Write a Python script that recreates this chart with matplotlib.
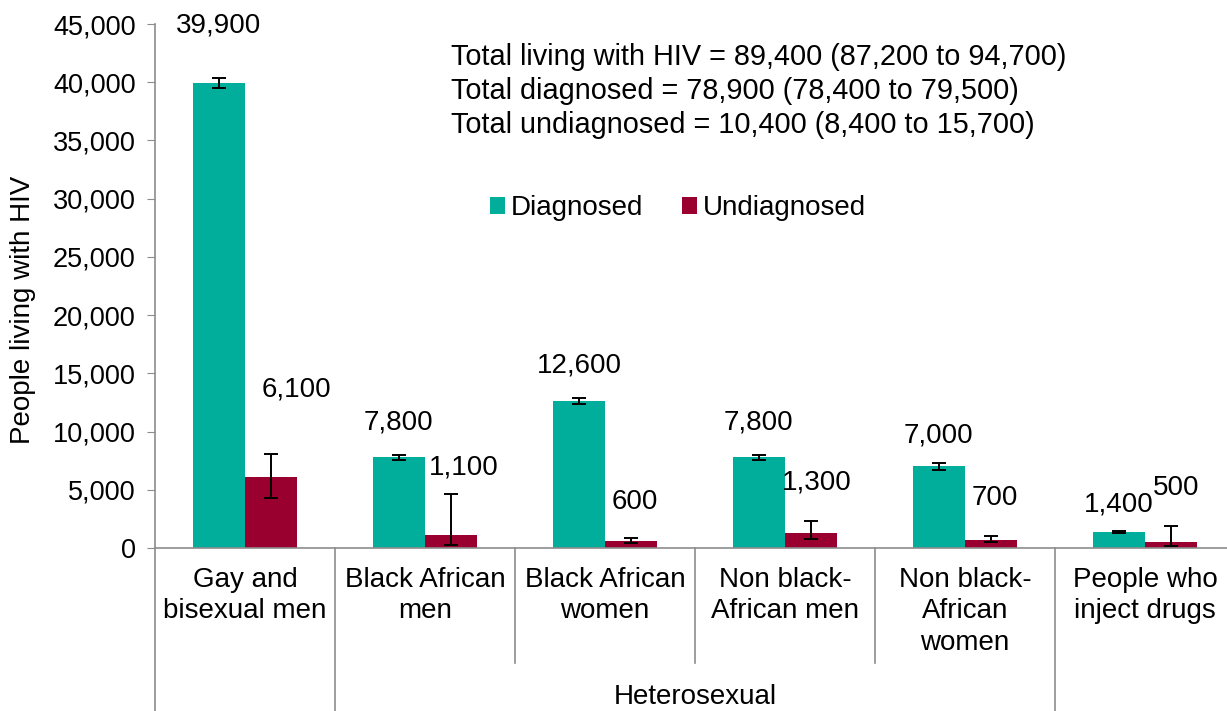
import matplotlib.pyplot as plt
import numpy as np

plt.rcParams['font.family'] = ['Liberation Sans', 'DejaVu Sans']

groups = ['Gay and\nbisexual men', 'Black African\nmen', 'Black African\nwomen',
          'Non black-\nAfrican men', 'Non black-\nAfrican\nwomen', 'People who\ninject drugs']
diagnosed = [39900, 7800, 12600, 7800, 7000, 1400]
diag_low = [39500, 7600, 12400, 7600, 6700, 1300]
diag_high = [40400, 8000, 12900, 8000, 7300, 1450]
undiagnosed = [6100, 1100, 600, 1300, 700, 500]
undiag_low = [4300, 300, 400, 800, 500, 200]
undiag_high = [8100, 4600, 900, 2300, 1000, 1900]

totals = ['Total living with HIV = 89,400 (87,200 to 94,700)',
          'Total diagnosed = 78,900 (78,400 to 79,500)',
          'Total undiagnosed = 10,400 (8,400 to 15,700)']

green = '#00AE9B'
red = '#990030'
grey = '#8C8C8C'
fs = 20

fig = plt.figure(figsize=(12.27, 7.11), dpi=100)
ax = fig.add_axes([155 / 1227, 1 - 548 / 711, 1 - 155 / 1227, 524 / 711])

x = np.arange(len(groups))
w = 0.29
d = np.array(diagnosed)
u = np.array(undiagnosed)
d_err = [d - np.array(diag_low), np.array(diag_high) - d]
u_err = [u - np.array(undiag_low), np.array(undiag_high) - u]
ekw = dict(ecolor='black', elinewidth=1.4, capsize=5, capthick=1.4)
ax.bar(x - w / 2, d, w, color=green, label='Diagnosed', yerr=d_err, error_kw=ekw)
ax.bar(x + w / 2, u, w, color=red, label='Undiagnosed', yerr=u_err, error_kw=ekw)

# hand-placed value labels (x offset in bar units, y in data units)
d_lab_y = [44900, 10800, 15700, 10800, 9700, 3700]
u_lab_y = [13650, 6900, 3950, 5600, 4300, 5150]
u_lab_dx = [0.14, 0.07, 0.02, 0.03, 0.02, 0.03]
for i in range(len(groups)):
    ax.text(x[i] - w / 2, d_lab_y[i], f'{diagnosed[i]:,}', ha='center', va='center', fontsize=fs)
    ax.text(x[i] + w / 2 + u_lab_dx[i], u_lab_y[i], f'{undiagnosed[i]:,}',
            ha='center', va='center', fontsize=fs)

ax.set_xlim(-0.5, 5.5 - 8 / 180)
ax.set_ylim(0, 45000)
ax.set_yticks(np.arange(0, 45001, 5000))
ax.set_yticklabels([f'{v:,}' for v in range(0, 45001, 5000)], fontsize=19.5)
ax.set_xticks([])
ax.tick_params(axis='y', direction='out', length=6, color=grey, pad=8)
for s in ['top', 'right']:
    ax.spines[s].set_visible(False)
for s in ['left', 'bottom']:
    ax.spines[s].set_color(grey)
    ax.spines[s].set_linewidth(1.2)
ax.set_ylabel('People living with HIV', fontsize=fs)
ax.yaxis.set_label_coords(-(155 - 36) / 1072, (548 - 310) / 524)

# category separators below the axis
trans = ax.get_xaxis_transform()
full = -(711 - 548) / 524
short = -(663 - 548) / 524
for b, bot in zip([-0.5, 0.5, 1.5, 2.5, 3.5, 4.5], [full, full, short, short, short, full]):
    ax.plot([b, b], [0, bot], color=grey, lw=1.2, transform=trans, clip_on=False)
for i, g in enumerate(groups):
    ax.text(x[i], -(567 - 548) / 524, g, transform=trans, ha='center', va='top',
            fontsize=fs, linespacing=1.27)
ax.text(2.5, -(697 - 548) / 524, 'Heterosexual', transform=trans, ha='center',
        va='center', fontsize=fs)

ax.text((451 - 155) / 1072, (548 - 43) / 524, '\n'.join(totals), transform=ax.transAxes,
        ha='left', va='top', fontsize=20.8, linespacing=1.28)

ax.legend(loc='center', bbox_to_anchor=((678 - 155) / 1072, (548 - 208) / 524), ncol=2,
          frameon=False, fontsize=fs, handlelength=0.55, handleheight=0.55,
          handletextpad=0.2, columnspacing=1.4)

fig.savefig('out.png', dpi=100)
